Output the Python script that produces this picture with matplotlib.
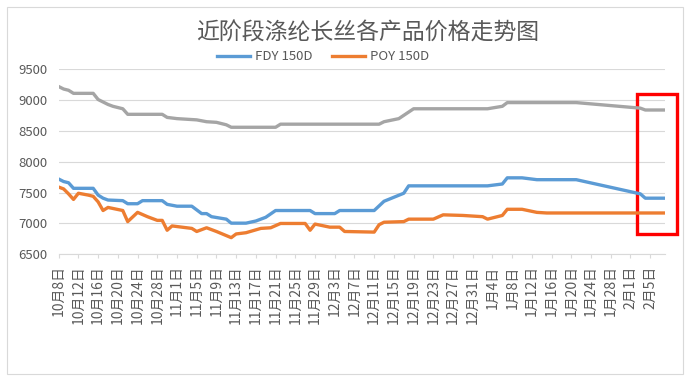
import datetime as dt
import matplotlib
matplotlib.use("Agg")
import matplotlib.pyplot as plt
from matplotlib.patches import Rectangle

plt.rcParams['font.family'] = ['Noto Sans CJK SC', 'DejaVu Sans']

# day offsets from 10月8日
start = dt.date(2019, 10, 8)
last_day = 123

fdy_days = [0, 1, 2, 3, 7, 8, 9, 10, 13, 14, 16, 17, 21, 22, 24, 27, 28, 29, 30, 31, 34, 35, 38, 40, 42, 44,
            51, 52, 56, 57, 64, 66, 70, 71, 87, 90, 91, 94, 97, 105, 118, 119, 123]
fdy_vals = [7720, 7680, 7660, 7570, 7570, 7460, 7410, 7380, 7370, 7320, 7320, 7370, 7370, 7310, 7280, 7280, 7220,
            7160, 7160, 7110, 7070, 7005, 7005, 7040, 7100, 7210, 7210, 7160, 7160, 7210, 7210, 7360, 7490, 7610,
            7610, 7640, 7740, 7740, 7710, 7710, 7480, 7410, 7410]

poy_days = [0, 1, 2, 3, 4, 6, 7, 8, 9, 10, 13, 14, 16, 18, 20, 21, 22, 23, 26, 27, 28, 30, 32, 35, 36, 38, 41, 43,
            45, 50, 51, 52, 55, 57, 58, 64, 65, 66, 70, 71, 76, 78, 82, 86, 87, 90, 91, 94, 97, 99, 123]
poy_vals = [7590, 7560, 7480, 7390, 7490, 7460, 7440, 7350, 7210, 7260, 7210, 7030, 7180, 7110, 7050, 7050, 6890,
            6960, 6930, 6920, 6870, 6930, 6870, 6770, 6830, 6850, 6920, 6930, 7000, 7000, 6890, 6990, 6940, 6940,
            6870, 6860, 6980, 7020, 7030, 7070, 7070, 7140, 7130, 7110, 7070, 7130, 7230, 7230, 7180, 7170, 7170]

dty_days = [0, 1, 2, 3, 7, 8, 10, 11, 13, 14, 21, 22, 24, 28, 30, 32, 34, 35, 44, 45, 65, 66, 69, 72, 87, 90, 91,
            105, 118, 119, 123]
dty_vals = [9220, 9180, 9160, 9110, 9110, 9010, 8930, 8900, 8860, 8770, 8770, 8720, 8700, 8680, 8650, 8640, 8600,
            8560, 8560, 8610, 8610, 8650, 8700, 8860, 8860, 8900, 8960, 8960, 8870, 8840, 8840]

tick_days = list(range(0, 121, 4))
tick_labels = []
for d in tick_days:
    day = start + dt.timedelta(days=d)
    tick_labels.append(f"{day.month}月{day.day}日")

fig = plt.figure(figsize=(6.93, 3.83), dpi=100)
ax = fig.add_axes([58.7 / 693, 1 - 254.3 / 383, (665 - 58.7) / 693, (254.3 - 69.3) / 383])

ax.plot(dty_days, dty_vals, color='#A5A5A5', lw=2.4, solid_joinstyle='round')
ax.plot(fdy_days, fdy_vals, color='#5B9BD5', lw=2.4, label='FDY 150D', solid_joinstyle='round')
ax.plot(poy_days, poy_vals, color='#ED7D31', lw=2.4, label='POY 150D', solid_joinstyle='round')

ax.set_xlim(0, last_day)
ax.set_ylim(6500, 9500)
ax.set_yticks(range(6500, 9501, 500))
ax.grid(axis='y', color='#D9D9D9', lw=0.8)
ax.set_axisbelow(True)
for s in ['top', 'right', 'left']:
    ax.spines[s].set_visible(False)
ax.spines['bottom'].set_color('#D9D9D9')
ax.spines['bottom'].set_linewidth(0.8)

ax.set_xticks(tick_days)
ax.set_xticklabels(tick_labels, rotation=90, ha='center', va='top')
ax.tick_params(axis='x', length=3, color='#D9D9D9', labelsize=10, labelcolor='#595959', pad=5)
ax.tick_params(axis='y', length=0, labelsize=9.5, labelcolor='#595959', pad=8)

# red highlight box on the latest days
ax.add_patch(Rectangle((117.4, 6830), 8.1, 2270, fill=False, edgecolor='#FF0000', lw=2.4, clip_on=False))

fig.text(368 / 693, 1 - 33 / 383, '近阶段涤纶长丝各产品价格走势图', ha='center', va='center',
         fontsize=16.5, color='#595959')
fig.legend(loc='center', bbox_to_anchor=(323 / 693, 1 - 57 / 383), ncol=2, frameon=False,
           fontsize=9.5, handlelength=2.5, handletextpad=0.4, columnspacing=1.5, labelcolor='#595959')

fig.patches.append(Rectangle((7 / 693, 1 - 374 / 383), 676 / 693, 367 / 383, transform=fig.transFigure,
                             fill=False, edgecolor='#D9D9D9', lw=0.8))

fig.savefig('out.png', dpi=100)
